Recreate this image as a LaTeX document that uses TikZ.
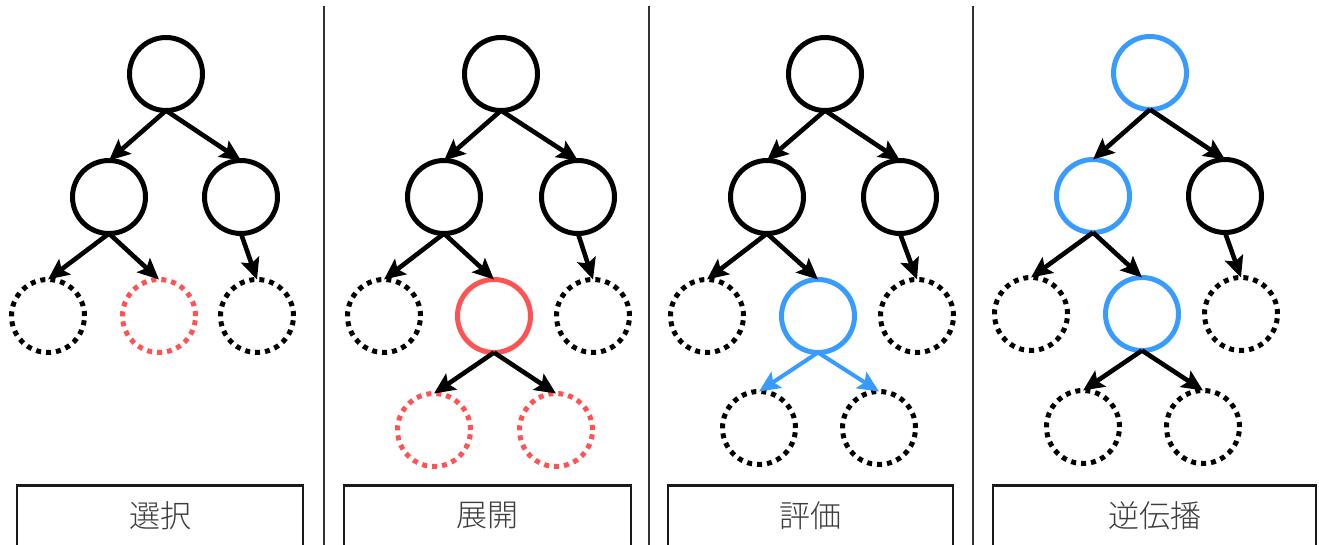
\documentclass[tikz,border=0pt]{standalone}
\usepackage{fontspec}
\newfontfamily\jpfont{Noto Sans CJK JP}[UprightFont=* Light]
\usetikzlibrary{arrows.meta}

\definecolor{mctsblue}{RGB}{55,155,255}
\definecolor{mctsred}{RGB}{255,82,82}
\definecolor{rulegray}{RGB}{50,50,50}
\definecolor{textgray}{RGB}{60,60,60}

\tikzset{
  tnode/.style={circle, draw=black, line width=5pt, minimum size=73pt, inner sep=0pt, outer sep=0pt},
  leaf/.style={tnode, line width=5pt, dash pattern=on 5pt off 5pt},
  link/.style={draw=black, line width=4.6pt, -{Stealth[length=21pt, width=19pt, inset=4pt]}},
  bluelink/.style={link, draw=mctsblue, line width=4pt},
  stagebox/.style={draw=black!90, line width=2.6pt, inner sep=0pt, anchor=north,
    minimum height=61pt, font=\jpfont\fontsize{31}{31}\selectfont, text=textgray},
  divider/.style={draw=rulegray, line width=2.6pt}
}
\newcommand{\stagetext}[1]{\raisebox{3pt}{#1}}

\begin{document}
\begin{tikzpicture}[x=1pt, y=-1pt]
\useasboundingbox (0,0) rectangle (1319,544);
\fill[white] (0,0) rectangle (1319,544);

% panel dividers
\coordinate (d1t) at (324,6);  \coordinate (d1b) at (324,546);
\coordinate (d2t) at (649,6);  \coordinate (d2b) at (649,546);
\coordinate (d3t) at (973,6);  \coordinate (d3b) at (973,546);
\draw[divider] (d1t) -- (d1b);
\draw[divider] (d2t) -- (d2b);
\draw[divider] (d3t) -- (d3b);

% ---------- selection ----------
\begin{scope}[shift={(166,0)}]
  \node[tnode] (sR) at (0,74) {};
  \node[tnode] (sA) at (-57,197) {};
  \node[tnode] (sB) at (75,197) {};
  \node[leaf] (sC) at (-118,316) {};
  \node[leaf, draw=mctsred] (sD) at (-7,316) {};
  \node[leaf] (sE) at (91,316) {};
  \draw[link] (sR.south) -- (sA.north);
  \draw[link] (sR.south) -- (sB.north);
  \draw[link] (sA.south) -- (sC.north);
  \draw[link] (sA.south) -- (sD.north);
  \draw[link] (sB.south) -- (sE.north);
\end{scope}
\node[stagebox, minimum width=286pt] (sL) at (160,484) {\stagetext{選択}};

% ---------- expansion ----------
\begin{scope}[shift={(501,0)}]
  \node[tnode] (eR) at (0,74) {};
  \node[tnode] (eA) at (-57,197) {};
  \node[tnode] (eB) at (77,197) {};
  \node[leaf] (eC) at (-117,316) {};
  \node[tnode, draw=mctsred] (eD) at (-7,316) {};
  \node[leaf] (eE) at (92,316) {};
  \node[leaf, draw=mctsred] (eF) at (-67,430) {};
  \node[leaf, draw=mctsred] (eG) at (55,430) {};
  \draw[link] (eR.south) -- (eA.north);
  \draw[link] (eR.south) -- (eB.north);
  \draw[link] (eA.south) -- (eC.north);
  \draw[link] (eA.south) -- (eD.north);
  \draw[link] (eB.south) -- (eE.north);
  \draw[link] (eD.south) -- (eF.north);
  \draw[link] (eD.south) -- (eG.north);
\end{scope}
\node[stagebox, minimum width=287pt] (eL) at (487.5,484) {\stagetext{展開}};

% ---------- evaluation ----------
\begin{scope}[shift={(825,0)}]
  \node[tnode] (vR) at (0,74) {};
  \node[tnode] (vA) at (-58,197) {};
  \node[tnode] (vB) at (75,197) {};
  \node[leaf] (vC) at (-118,316) {};
  \node[tnode, draw=mctsblue] (vD) at (-7,316) {};
  \node[leaf] (vE) at (92,316) {};
  \node[leaf] (vF) at (-66,428) {};
  \node[leaf] (vG) at (54,428) {};
  \draw[link] (vR.south) -- (vA.north);
  \draw[link] (vR.south) -- (vB.north);
  \draw[link] (vA.south) -- (vC.north);
  \draw[link] (vA.south) -- (vD.north);
  \draw[link] (vB.south) -- (vE.north);
  \draw[bluelink] (vD.south) -- (vF.north);
  \draw[bluelink] (vD.south) -- (vG.north);
\end{scope}
\node[stagebox, minimum width=285pt] (vL) at (810.5,484) {\stagetext{評価}};

% ---------- backpropagation ----------
\begin{scope}[shift={(1150,0)}]
  \node[tnode, draw=mctsblue] (bR) at (0,73) {};
  \node[tnode, draw=mctsblue] (bA) at (-57,196) {};
  \node[tnode] (bB) at (75,196) {};
  \node[leaf] (bC) at (-119,314) {};
  \node[tnode, draw=mctsblue] (bD) at (-8,314) {};
  \node[leaf] (bE) at (91,314) {};
  \node[leaf] (bF) at (-67,427) {};
  \node[leaf] (bG) at (53,427) {};
  \draw[link] (bR.south) -- (bA.north);
  \draw[link] (bR.south) -- (bB.north);
  \draw[link] (bA.south) -- (bC.north);
  \draw[link] (bA.south) -- (bD.north);
  \draw[link] (bB.south) -- (bE.north);
  \draw[link] (bD.south) -- (bF.north);
  \draw[link] (bD.south) -- (bG.north);
\end{scope}
\node[stagebox, minimum width=323pt] (bL) at (1154.5,484) {\stagetext{逆伝播}};
\end{tikzpicture}
\end{document}
